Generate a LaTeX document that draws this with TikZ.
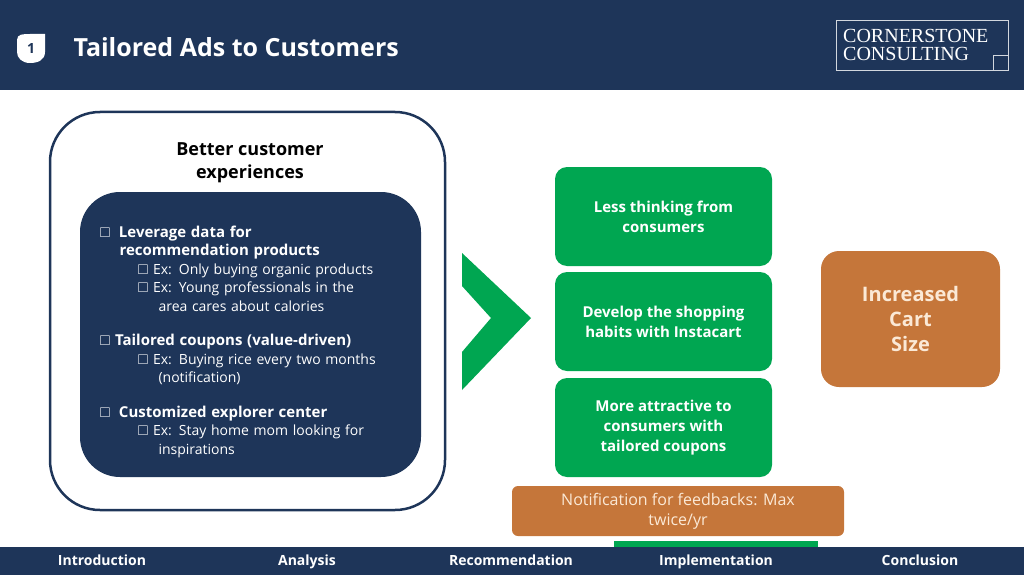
\documentclass[tikz,border=0pt]{standalone}
\usepackage{fontspec}
\setmainfont{Open Sans}
\newfontfamily\logofont{Liberation Serif}
\usepackage{amssymb}
\definecolor{navy}{HTML}{1E3559}
\definecolor{leafgreen}{HTML}{00A651}
\definecolor{rust}{HTML}{C5763A}
\definecolor{cream}{HTML}{FBE9D6}
\begin{document}
\begin{tikzpicture}[x=1pt,y=-1pt]
  \tikzstyle{stepbox}=[rounded corners=12pt, fill=leafgreen, text=white, font=\bfseries\fontsize{15}{20}\selectfont, align=center]
  \tikzstyle{navlabel}=[text=white, anchor=base, font=\bfseries\fontsize{14}{16}\selectfont]
  \tikzstyle{bulletbox}=[font=\fontsize{14}{18.5}\selectfont]
  \newcommand{\hd}{\bfseries\fontsize{15}{20}\selectfont}
  \useasboundingbox (0,0) rectangle (1024,575);

  % header
  \fill[navy] (0,0) rectangle (1024,90);
  \fill[white] (17,40) .. controls (17,34) and (23,34) .. (30,34) -- (45,34) -- (45,52) .. controls (45,60) and (38,63) .. (30,63) .. controls (22,63) and (17,58) .. (17,52) -- cycle;
  \node[text=navy, font=\bfseries\fontsize{14}{14}\selectfont] (badge) at (31,49) {1};
  \node[anchor=west, text=white, font=\bfseries\fontsize{25}{28}\selectfont] (title) at (70,47) {Tailored Ads to Customers};
  \draw[white!80!navy] (836,20) rectangle (1008,70);
  \draw[white!80!navy] (993,70) -- (993,55) -- (1008,55);
  \node[text=white, anchor=base west, font=\logofont\fontsize{20}{20}\selectfont, inner sep=0pt] (logoa) at (843,43) {CORNERSTONE};
  \node[text=white, anchor=base west, font=\logofont\fontsize{20}{20}\selectfont, inner sep=0pt] (logob) at (843,61) {CONSULTING};

  % left panel
  \draw[navy, line width=2.5pt, fill=white, rounded corners=50pt] (50,112) rectangle (445,510);
  \node[font=\bfseries\fontsize{18}{23}\selectfont, align=center] (better) at (250,163) {Better customer\\experiences};
  \fill[navy, rounded corners=40pt] (80,192) rectangle (421,477);
  \node[anchor=north west, text=white, bulletbox, align=left, text width=320pt] (bullets) at (96,222) {%
    $\square$\; {\hd Leverage data for}\\
    \hspace*{20pt}{\hd recommendation products}\\
    \hspace*{38pt}$\square$ Ex: Only buying organic products\\
    \hspace*{38pt}$\square$ Ex: Young professionals in the\\
    \hspace*{59pt}area cares about calories\\[16pt]
    $\square$ {\hd Tailored coupons (value-driven)}\\
    \hspace*{38pt}$\square$ Ex: Buying rice every two months\\
    \hspace*{59pt}(notification)\\[16pt]
    $\square$\; {\hd Customized explorer center}\\
    \hspace*{38pt}$\square$ Ex: Stay home mom looking for\\
    \hspace*{59pt}inspirations};

  % chevron
  \fill[leafgreen] (462,253) -- (531,318) -- (462,390) -- (462,352) -- (491,318) -- (462,286) -- cycle;

  % steps
  \node[stepbox, minimum width=217pt, minimum height=99pt] (less) at (663.5,216.5) {Less thinking from\\consumers};
  \node[stepbox, minimum width=217pt, minimum height=99pt] (habits) at (663.5,321.5) {Develop the shopping\\habits with Instacart};
  \node[stepbox, minimum width=217pt, minimum height=99pt] (coupons) at (663.5,427.5) {More attractive to\\consumers with\\tailored coupons};

  % outcome
  \node[rounded corners=18pt, fill=rust, text=cream, font=\bfseries\fontsize{20}{25}\selectfont, align=center, minimum width=179pt, minimum height=136pt] (cart) at (910.5,319) {Increased\\Cart\\Size};
  \node[rounded corners=6pt, fill=rust, text=cream, font=\fontsize{16}{20}\selectfont, align=center, minimum width=332pt, minimum height=50pt] (notify) at (678,511) {Notification for feedbacks: Max\\twice/yr};

  % footer
  \fill[leafgreen] (614,541) rectangle (818,547);
  \fill[navy] (0,547) rectangle (1024,575);
  \node[navlabel] (intro) at (102,565) {Introduction};
  \node[navlabel] (analysis) at (307,565) {Analysis};
  \node[navlabel] (recommend) at (511,565) {Recommendation};
  \node[navlabel] (implement) at (716,565) {Implementation};
  \node[navlabel] (conclude) at (920,565) {Conclusion};
\end{tikzpicture}
\end{document}
